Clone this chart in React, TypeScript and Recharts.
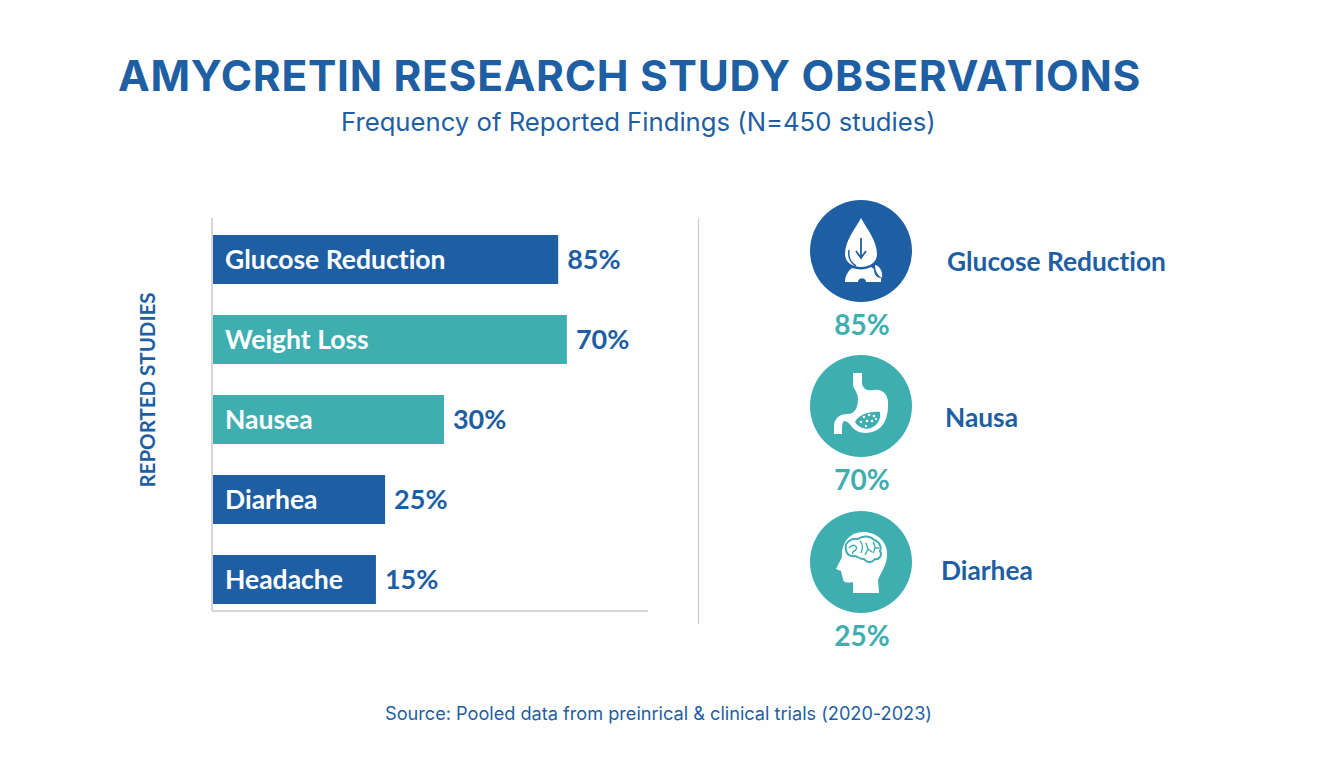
import React from 'react';
import { BarChart, Bar, Cell, XAxis, YAxis, LabelList } from 'recharts';

const BLUE = '#1e5fa3';
const TEAL = '#3eaeb0';
const FONT = 'Lato, sans-serif';
const THIN_FONT = 'Inter, sans-serif';

const categories = ['Glucose Reduction', 'Weight Loss', 'Nausea', 'Diarhea', 'Headache'];
// the printed percentages and the drawn bar lengths disagree in the original, so both are kept
const printedValues = ['85%', '70%', '30%', '25%', '15%'];
const barLengths = [79.4, 81.4, 53.2, 39.7, 37.6];
const barColors = [BLUE, TEAL, TEAL, BLUE, BLUE];

const sideLabels = ['Glucose Reduction', 'Nausa', 'Diarhea'];
const sideValues = ['85%', '70%', '25%'];
const sideColors = [BLUE, TEAL, TEAL];

const chartData = categories.map((name, i) => ({ name, length: barLengths[i], printed: printedValues[i] }));

const DropIcon = () => (
  <g>
    <path d="M0,-33 C6,-22 16,-10 16,3 C16,11 9,16 0,16 C-9,16 -16,11 -16,3 C-16,-10 -6,-22 0,-33 Z" fill="#fff" />
    <path d="M-12,-1 C-13,6 -10,12 -5,15" fill="none" stroke={BLUE} strokeWidth="1.5" />
    <path d="M0,-13 L0,6 M-5,0 L0,7 L5,0" fill="none" stroke={BLUE} strokeWidth="1.8" />
    <path d="M-9,17 C-3,19 5,19 10,16 L13,18 C13,24 16,27 20,27 L20,31 L5,31 C5,26 -3,26 -3,31 L-16,31 C-16,25 -13,20 -9,17 Z" fill="#fff" />
    <path d="M14,14 C19,15 22,21 21,27 C17,25 14,20 14,14 Z" fill="#fff" />
  </g>
);

const StomachIcon = () => (
  <g>
    <path
      d="M-8,-33 L1,-33 L1,-22 C3,-16 7,-15 12,-16 C22,-18 28,-11 27,0 C27,12 22,22 14,25 C6,28 -3,28 -9,21 C-11,18 -14,15 -17,15 C-19,16 -19,22 -19,28 L-27,28 L-27,19 C-26,11 -20,8 -13,8 C-6,8 -3,1 -3,-7 C-3,-14 -8,-17 -8,-22 Z"
      fill="#fff"
    />
    <path d="M-6,16 C-3,9 8,5 19,6 C20,13 17,19 10,22 C3,24 -3,21 -6,16 Z" fill={TEAL} />
    <g fill="#fff">
      <circle cx="3" cy="11" r="1.3" />
      <circle cx="8" cy="9" r="1.3" />
      <circle cx="13" cy="10" r="1.3" />
      <circle cx="0" cy="16" r="1.3" />
      <circle cx="6" cy="15" r="1.3" />
      <circle cx="11" cy="15" r="1.3" />
      <circle cx="15" cy="13" r="1.1" />
      <circle cx="5" cy="20" r="1.1" />
    </g>
  </g>
);

const HeadIcon = () => (
  <g>
    <path
      d="M2,-30 C16,-30 27,-20 26,-7 C26,3 20,10 17,18 L18,31 L-8,31 L-8,20 C-12,21 -18,21 -18,17 L-20,9 L-25,7 L-19,-5 C-20,-18 -12,-30 2,-30 Z"
      fill="#fff"
    />
    <path
      d="M-15,-13 C-17,-20 -9,-24 -3,-23 C2,-27 10,-26 13,-22 C18,-21 21,-15 19,-11 C22,-6 17,-2 14,-3 C11,1 6,1 3,-3 C-1,-2 -3,-6 -6,-6 C-11,-5 -15,-8 -15,-13 Z"
      fill="#fff"
      stroke={TEAL}
      strokeWidth="2"
    />
    <path
      d="M-12,-14 C-8,-19 -3,-16 -5,-12 M-5,-12 C-8,-11 -9,-9 -8,-8 M-1,-21 C2,-18 2,-13 0,-9 M5,-19 L7,-13 L4,-7 M7,-13 L11,-10 M12,-20 C15,-16 14,-12 12,-9 M14,-14 L18,-14"
      fill="none"
      stroke={TEAL}
      strokeWidth="1.4"
    />
  </g>
);

const sideIcons = [DropIcon, StomachIcon, HeadIcon];
const sideTops = [200, 355, 511];
const sideLabelSpots = [
  { left: 947, top: 246 },
  { left: 945, top: 402 },
  { left: 941, top: 555 },
];

const ValueLabel = (props: any) => {
  const { x, y, width, height, value } = props;
  return (
    <text x={x + width + 9} y={y + height / 2 + 9} fill={BLUE} fontFamily={FONT} fontSize={27} fontWeight={700}>
      {value}
    </text>
  );
};

const NameLabel = (props: any) => {
  const { x, y, height, value } = props;
  return (
    <text
      x={x + 13}
      y={y + height / 2 + 9}
      fill="#fff"
      fontFamily={FONT}
      fontSize={26.5}
      fontWeight={700}
      style={{ fontVariantLigatures: 'none' }}
    >
      {value}
    </text>
  );
};

export default function App() {
  return (
    <div style={{ position: 'absolute', left: 0, top: 0, width: 1344, height: 768, background: '#fefefe', overflow: 'hidden', fontFamily: FONT, fontVariantLigatures: 'none' }}>
      <div style={{ position: 'absolute', left: 118, top: 49, fontFamily: THIN_FONT, fontSize: 42.5, letterSpacing: 0.7, fontWeight: 700, color: BLUE, whiteSpace: 'nowrap', lineHeight: '54px' }}>
        AMYCRETIN RESEARCH STUDY OBSERVATIONS
      </div>
      <div style={{ position: 'absolute', left: 341, top: 105, fontFamily: THIN_FONT, fontSize: 25.7, color: BLUE, whiteSpace: 'nowrap', lineHeight: '34px' }}>
        Frequency of Reported Findings (N=450 studies)
      </div>

      <div style={{ position: 'absolute', left: 0, top: 0 }}>
        <BarChart
          width={1344}
          height={768}
          data={chartData}
          layout="vertical"
          barSize={49}
          margin={{ left: 211, top: 218, right: 696, bottom: 156 }}
        >
          <XAxis type="number" domain={[0, 100]} tick={false} tickLine={false} height={1} axisLine={{ stroke: '#d6d6d6', strokeWidth: 2 }} />
          <YAxis
            type="category"
            dataKey="name"
            width={1}
            tick={false}
            tickLine={false}
            axisLine={{ stroke: '#d6d6d6', strokeWidth: 2 }}
            padding={{ top: 1, bottom: -8 }}
          />
          <Bar dataKey="length" isAnimationActive={false}>
            {chartData.map((d, i) => (
              <Cell key={d.name} fill={barColors[i]} />
            ))}
            <LabelList dataKey="name" content={NameLabel} />
            <LabelList dataKey="printed" content={ValueLabel} />
          </Bar>
        </BarChart>
      </div>

      <div
        style={{
          position: 'absolute',
          left: 147,
          top: 390,
          transform: 'translate(-50%, -50%) rotate(-90deg)',
          fontSize: 20.5,
          fontWeight: 700,
          color: BLUE,
          whiteSpace: 'nowrap',
        }}
      >
        REPORTED STUDIES
      </div>

      <div style={{ position: 'absolute', left: 698, top: 218, width: 1, height: 406, background: '#c9c9c9' }} />

      {sideLabels.map((label, i) => {
        const Icon = sideIcons[i];
        return (
          <React.Fragment key={label}>
            <svg style={{ position: 'absolute', left: 810, top: sideTops[i] }} width={102} height={102} viewBox="-51 -51 102 102">
              <circle r={51} fill={sideColors[i]} />
              <Icon />
            </svg>
            <div
              style={{
                position: 'absolute',
                left: 811,
                width: 102,
                top: sideTops[i] + 107,
                textAlign: 'center',
                fontSize: 28,
                fontWeight: 700,
                color: TEAL,
                lineHeight: '34px',
              }}
            >
              {sideValues[i]}
            </div>
            <div
              style={{
                position: 'absolute',
                left: sideLabelSpots[i].left,
                top: sideLabelSpots[i].top,
                fontSize: 26.3,
                fontWeight: 700,
                color: BLUE,
                whiteSpace: 'nowrap',
                lineHeight: '30px',
              }}
            >
              {label}
            </div>
          </React.Fragment>
        );
      })}

      <div style={{ position: 'absolute', left: 385, top: 700, fontFamily: THIN_FONT, fontSize: 18.15, color: BLUE, whiteSpace: 'nowrap', lineHeight: '26px' }}>
        Source: Pooled data from preinrical &amp; clinical trials (2020-2023)
      </div>
    </div>
  );
}
